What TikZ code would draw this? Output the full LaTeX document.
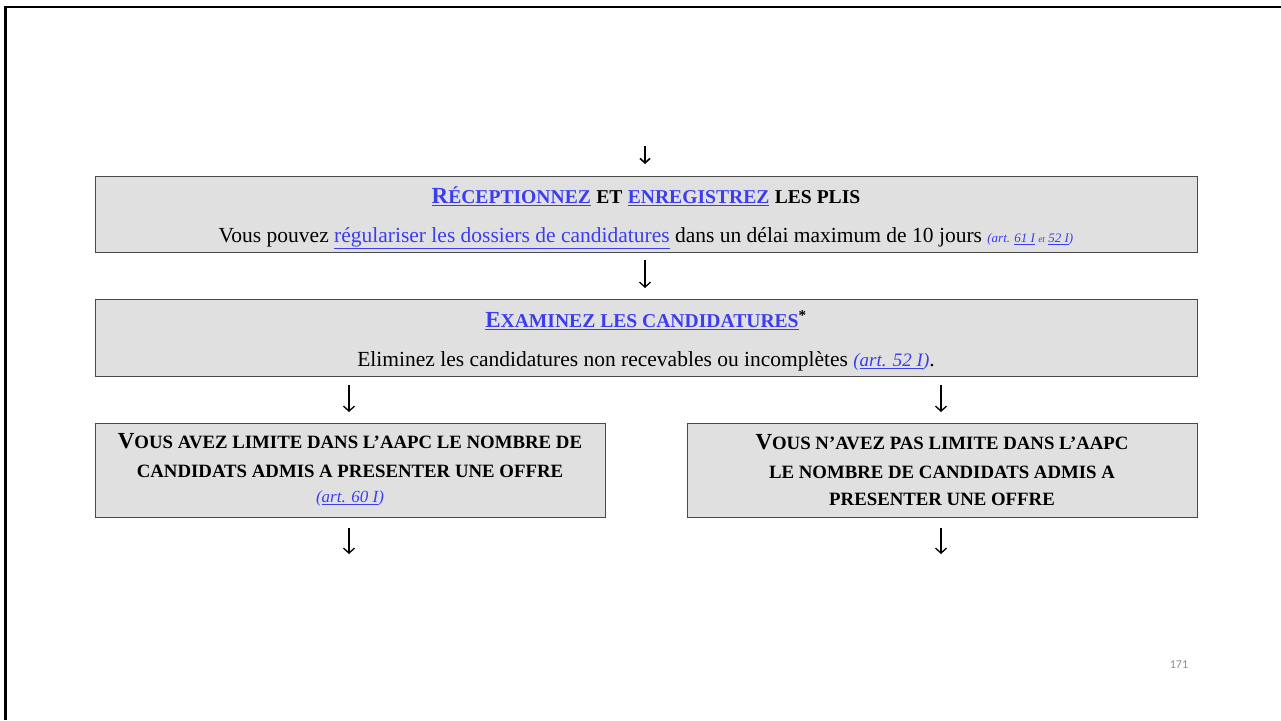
\documentclass[tikz,border=0pt]{standalone}
\usepackage{fontspec}
\setmainfont{Liberation Serif}
\newfontfamily\numfont{Carlito}
\usetikzlibrary{arrows.meta}
\definecolor{lnk}{HTML}{3C3CF0}
\definecolor{boxfill}{HTML}{E0E0E0}
\definecolor{boxdraw}{HTML}{4A4A4A}
\definecolor{pagenum}{HTML}{8C8C8C}
\newcommand\lk[1]{\textcolor{lnk}{\underline{#1}}}
\newcommand\BC[1]{{\fontsize{23}{21}\selectfont #1}}
\newcommand\SC[1]{{\fontsize{19.6}{21}\selectfont #1}}
\newcommand\SCb[1]{{\fontsize{18.8}{21}\selectfont #1}}
\newcommand\rf[2]{{\itshape\fontsize{#1}{21}\selectfont\color{lnk}#2}}
\begin{document}
\begin{tikzpicture}[x=1pt,y=-1pt,
  box/.style={draw=boxdraw, fill=boxfill, line width=1pt, inner sep=0pt, align=center},
  widebox/.style={box, minimum width=1102pt, font=\fontsize{21.5}{24}\selectfont},
  halfbox/.style={box, minimum width=510pt, minimum height=94pt, font=\fontsize{17.5}{21}\selectfont},
  dn/.style={line width=1.3pt, -{Straight Barb[length=5pt,width=11pt,line width=1.3pt]}},
  dnsmall/.style={line width=1.6pt, -{Straight Barb[length=4.5pt,width=10pt,line width=1.6pt]}}]
\useasboundingbox (0,0) rectangle (1281,720);
\draw[line width=2.6pt] (5.5,720) -- (5.5,7) -- (1281,7);

\node[widebox, minimum height=76pt] (b1) at (646,214)
  {\rule{0pt}{24pt}\bfseries\lk{\BC{R}\SC{ÉCEPTIONNEZ}} \SC{ET} \lk{\SC{ENREGISTREZ}} \SC{LES PLIS}\\[15pt]
   Vous pouvez \lk{régulariser les dossiers de candidatures} dans un délai maximum de 10 jours
   \rf{13}{(art. \underline{61 I} {\fontsize{9.5}{12}\selectfont et} \underline{52 I})}};

\node[widebox, minimum height=77pt] (b2) at (646,337.5)
  {\rule{0pt}{24pt}\bfseries\lk{\BC{E}\SC{XAMINEZ LES CANDIDATURES}}\textsuperscript{*}\\[15pt]
   Eliminez les candidatures non recevables ou incomplètes \rf{19}{(\underline{art. 52 I})}.};

\node[halfbox] (b3) at (350,470)
  {\bfseries\BC{V}\SCb{OUS AVEZ LIMITE DANS L’AAPC LE NOMBRE DE}\\[8pt]
   \bfseries\SCb{CANDIDATS ADMIS A PRESENTER UNE OFFRE}\\[4pt]
   \rf{17}{(\underline{art. 60 I})}};

\node[halfbox] (b4) at (942,470)
  {\bfseries\BC{V}\SCb{OUS N’AVEZ PAS LIMITE DANS L’AAPC}\\[8pt]
   \bfseries\SCb{LE NOMBRE DE CANDIDATS ADMIS A}\\[6pt]
   \bfseries\SCb{PRESENTER UNE OFFRE}};

\coordinate (a0s) at (645,146); \coordinate (a0e) at (645,164);
\coordinate (a1s) at (645,260); \coordinate (a1e) at (645,288);
\coordinate (a2s) at (349,385); \coordinate (a2e) at (349,412);
\coordinate (a3s) at (941,385); \coordinate (a3e) at (941,412);
\coordinate (a4s) at (349,528); \coordinate (a4e) at (349,554);
\coordinate (a5s) at (941,528); \coordinate (a5e) at (941,554);
\draw[dnsmall] (a0s) -- (a0e);
\draw[dn] (a1s) -- (a1e);
\draw[dn] (a2s) -- (a2e);
\draw[dn] (a3s) -- (a3e);
\draw[dn] (a4s) -- (a4e);
\draw[dn] (a5s) -- (a5e);

\node[text=pagenum, font=\numfont\fontsize{12}{14}\selectfont] (pg) at (1179,665) {171};
\end{tikzpicture}
\end{document}
